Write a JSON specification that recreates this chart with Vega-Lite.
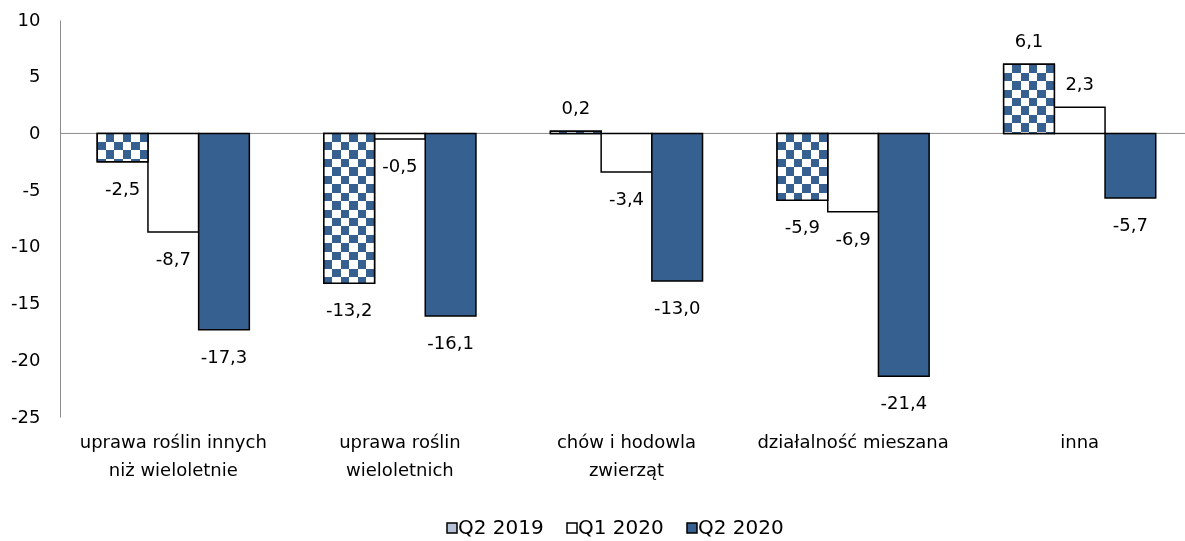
{
  "$schema": "https://vega.github.io/schema/vega-lite/v6.json",
  "width": 1125,
  "height": 397,
  "autosize": {"type": "none"},
  "padding": {"left": 60, "top": 20, "right": 0, "bottom": 124},
  "background": "#ffffff",
  "config": {
    "font": "DejaVu Sans",
    "view": {"stroke": null},
    "locale": {
      "number": {"decimal": ",", "thousands": " ", "grouping": [3], "currency": ["", " zł"], "minus": "-"}
    },
    "axisY": {
      "title": null,
      "values": [-25, -20, -15, -10, -5, 0, 5, 10],
      "ticks": false,
      "grid": false,
      "domainColor": "#8c8c8c",
      "domainWidth": 1,
      "labelFontSize": 18,
      "labelPadding": 20,
      "labelColor": "#000000",
      "format": "d"
    }
  },
  "data": {
    "values": [
      {"cat": "uprawa roślin innych niż wieloletnie", "series": "Q2 2019", "value": -2.5},
      {"cat": "uprawa roślin innych niż wieloletnie", "series": "Q1 2020", "value": -8.7},
      {"cat": "uprawa roślin innych niż wieloletnie", "series": "Q2 2020", "value": -17.3},
      {"cat": "uprawa roślin wieloletnich", "series": "Q2 2019", "value": -13.2},
      {"cat": "uprawa roślin wieloletnich", "series": "Q1 2020", "value": -0.5},
      {"cat": "uprawa roślin wieloletnich", "series": "Q2 2020", "value": -16.1},
      {"cat": "chów i hodowla zwierząt", "series": "Q2 2019", "value": 0.2},
      {"cat": "chów i hodowla zwierząt", "series": "Q1 2020", "value": -3.4},
      {"cat": "chów i hodowla zwierząt", "series": "Q2 2020", "value": -13.0},
      {"cat": "działalność mieszana", "series": "Q2 2019", "value": -5.9},
      {"cat": "działalność mieszana", "series": "Q1 2020", "value": -6.9},
      {"cat": "działalność mieszana", "series": "Q2 2020", "value": -21.4},
      {"cat": "inna", "series": "Q2 2019", "value": 6.1},
      {"cat": "inna", "series": "Q1 2020", "value": 2.3},
      {"cat": "inna", "series": "Q2 2020", "value": -5.7}
    ]
  },
  "layer": [
    {
      "data": {"values": [{}]},
      "mark": {"type": "rule", "color": "#8c8c8c", "strokeWidth": 1},
      "encoding": {
        "y": {"datum": 0, "type": "quantitative", "scale": {"domain": [-25, 10], "nice": false}, "axis": {"title": null}}
      }
    },
    {
      "encoding": {
        "x": {
          "field": "cat", "type": "nominal", "sort": null,
          "scale": {"domain": ["uprawa roślin innych niż wieloletnie", "uprawa roślin wieloletnich", "chów i hodowla zwierząt", "działalność mieszana", "inna"], "range": [0, 1133], "paddingInner": 0, "paddingOuter": 0},
          "axis": {
            "title": null, "domain": false, "ticks": false, "labelFontSize": 18, "labelPadding": 16,
            "labelLineHeight": 28, "labelLimit": 0, "labelColor": "#000000", "labelAngle": 0, "labelOverlap": false,
            "labelExpr": "datum.value == 'uprawa roślin innych niż wieloletnie' ? ['uprawa roślin innych', 'niż wieloletnie'] : datum.value == 'uprawa roślin wieloletnich' ? ['uprawa roślin', 'wieloletnich'] : datum.value == 'chów i hodowla zwierząt' ? ['chów i hodowla', 'zwierząt'] : datum.label"
          }
        },
        "xOffset": {
          "field": "series", "type": "nominal", "sort": null,
          "scale": {"domain": ["Q2 2019", "Q1 2020", "Q2 2020"], "paddingOuter": 0.735, "paddingInner": 0}
        },
        "y": {
          "field": "value", "type": "quantitative",
          "scale": {"domain": [-25, 10], "nice": false},
          "axis": {"title": null}
        }
      },
      "layer": [
        {
          "mark": {"type": "bar", "stroke": "#000000", "strokeWidth": 1.5},
          "encoding": {
            "fill": {
              "field": "series", "type": "nominal",
              "scale": {"domain": ["Q2 2019", "Q1 2020", "Q2 2020"], "range": ["#b4c3d6", "#ffffff", "#36608f"]},
              "legend": {
                "title": null, "orient": "none", "legendX": 382, "legendY": 498, "direction": "horizontal",
                "symbolType": "square", "symbolSize": 100, "symbolStrokeColor": "#000000", "symbolStrokeWidth": 1.5,
                "labelFontSize": 20, "labelOffset": -4, "columnPadding": 18, "labelColor": "#000000"
              }
            }
          }
        },
        {
          "transform": [{"filter": "datum.series == 'Q2 2019'"}],
          "mark": {
            "type": "bar",
            "fill": {"gradient": "linear", "x1": 0, "y1": 0, "x2": 1, "y2": 0, "stops": [
              {"offset": 0, "color": "#000000"}, {"offset": 0.1667, "color": "#000000"},
              {"offset": 0.1667, "color": "#c99f70"}, {"offset": 0.3333, "color": "#c99f70"},
              {"offset": 0.3333, "color": "#000000"}, {"offset": 0.5, "color": "#000000"},
              {"offset": 0.5, "color": "#c99f70"}, {"offset": 0.6667, "color": "#c99f70"},
              {"offset": 0.6667, "color": "#000000"}, {"offset": 0.8333, "color": "#000000"},
              {"offset": 0.8333, "color": "#c99f70"}, {"offset": 1, "color": "#c99f70"}
            ]}
          }
        },
        {
          "transform": [{"filter": "datum.series == 'Q2 2019' && datum.cat == 'uprawa roślin innych niż wieloletnie'"}],
          "mark": {
            "type": "bar", "blend": "difference",
            "fill": {"gradient": "linear", "x1": 0, "y1": 0, "x2": 0, "y2": 1, "stops": [
              {"offset": 0, "color": "#000000"}, {"offset": 0.298, "color": "#000000"},
              {"offset": 0.298, "color": "#c99f70"}, {"offset": 0.596, "color": "#c99f70"},
              {"offset": 0.596, "color": "#000000"}, {"offset": 0.894, "color": "#000000"},
              {"offset": 0.894, "color": "#c99f70"}, {"offset": 1, "color": "#c99f70"}
            ]}
          }
        },
        {
          "transform": [{"filter": "datum.series == 'Q2 2019' && datum.cat == 'uprawa roślin wieloletnich'"}],
          "mark": {
            "type": "bar", "blend": "difference",
            "fill": {"gradient": "linear", "x1": 0, "y1": 0, "x2": 0, "y2": 1, "stops": [
              {"offset": 0, "color": "#000000"}, {"offset": 0.0565, "color": "#000000"},
              {"offset": 0.0565, "color": "#c99f70"}, {"offset": 0.1129, "color": "#c99f70"},
              {"offset": 0.1129, "color": "#000000"}, {"offset": 0.1694, "color": "#000000"},
              {"offset": 0.1694, "color": "#c99f70"}, {"offset": 0.2258, "color": "#c99f70"},
              {"offset": 0.2258, "color": "#000000"}, {"offset": 0.2823, "color": "#000000"},
              {"offset": 0.2823, "color": "#c99f70"}, {"offset": 0.3387, "color": "#c99f70"},
              {"offset": 0.3387, "color": "#000000"}, {"offset": 0.3952, "color": "#000000"},
              {"offset": 0.3952, "color": "#c99f70"}, {"offset": 0.4516, "color": "#c99f70"},
              {"offset": 0.4516, "color": "#000000"}, {"offset": 0.5081, "color": "#000000"},
              {"offset": 0.5081, "color": "#c99f70"}, {"offset": 0.5645, "color": "#c99f70"},
              {"offset": 0.5645, "color": "#000000"}, {"offset": 0.621, "color": "#000000"},
              {"offset": 0.621, "color": "#c99f70"}, {"offset": 0.6774, "color": "#c99f70"},
              {"offset": 0.6774, "color": "#000000"}, {"offset": 0.7339, "color": "#000000"},
              {"offset": 0.7339, "color": "#c99f70"}, {"offset": 0.7903, "color": "#c99f70"},
              {"offset": 0.7903, "color": "#000000"}, {"offset": 0.8468, "color": "#000000"},
              {"offset": 0.8468, "color": "#c99f70"}, {"offset": 0.9032, "color": "#c99f70"},
              {"offset": 0.9032, "color": "#000000"}, {"offset": 0.9597, "color": "#000000"},
              {"offset": 0.9597, "color": "#c99f70"}, {"offset": 1, "color": "#c99f70"}
            ]}
          }
        },
        {
          "transform": [{"filter": "datum.series == 'Q2 2019' && datum.cat == 'działalność mieszana'"}],
          "mark": {
            "type": "bar", "blend": "difference",
            "fill": {"gradient": "linear", "x1": 0, "y1": 0, "x2": 0, "y2": 1, "stops": [
              {"offset": 0, "color": "#000000"}, {"offset": 0.1263, "color": "#000000"},
              {"offset": 0.1263, "color": "#c99f70"}, {"offset": 0.2526, "color": "#c99f70"},
              {"offset": 0.2526, "color": "#000000"}, {"offset": 0.3789, "color": "#000000"},
              {"offset": 0.3789, "color": "#c99f70"}, {"offset": 0.5052, "color": "#c99f70"},
              {"offset": 0.5052, "color": "#000000"}, {"offset": 0.6315, "color": "#000000"},
              {"offset": 0.6315, "color": "#c99f70"}, {"offset": 0.7578, "color": "#c99f70"},
              {"offset": 0.7578, "color": "#000000"}, {"offset": 0.8841, "color": "#000000"},
              {"offset": 0.8841, "color": "#c99f70"}, {"offset": 1, "color": "#c99f70"}
            ]}
          }
        },
        {
          "transform": [{"filter": "datum.series == 'Q2 2019' && datum.cat == 'inna'"}],
          "mark": {
            "type": "bar", "blend": "difference",
            "fill": {"gradient": "linear", "x1": 0, "y1": 0, "x2": 0, "y2": 1, "stops": [
              {"offset": 0, "color": "#000000"}, {"offset": 0.1221, "color": "#000000"},
              {"offset": 0.1221, "color": "#c99f70"}, {"offset": 0.2442, "color": "#c99f70"},
              {"offset": 0.2442, "color": "#000000"}, {"offset": 0.3663, "color": "#000000"},
              {"offset": 0.3663, "color": "#c99f70"}, {"offset": 0.4884, "color": "#c99f70"},
              {"offset": 0.4884, "color": "#000000"}, {"offset": 0.6105, "color": "#000000"},
              {"offset": 0.6105, "color": "#c99f70"}, {"offset": 0.7326, "color": "#c99f70"},
              {"offset": 0.7326, "color": "#000000"}, {"offset": 0.8547, "color": "#000000"},
              {"offset": 0.8547, "color": "#c99f70"}, {"offset": 0.9768, "color": "#c99f70"},
              {"offset": 0.9768, "color": "#000000"}, {"offset": 1, "color": "#000000"}
            ]}
          }
        },
        {
          "transform": [{"filter": "datum.series == 'Q2 2019'"}],
          "mark": {"type": "bar", "fill": "#ffffff", "blend": "difference"}
        },
        {
          "transform": [{"filter": "datum.series == 'Q2 2019'"}],
          "mark": {"type": "bar", "fillOpacity": 0, "stroke": "#000000", "strokeWidth": 1.5}
        },
        {
          "transform": [{"filter": "datum.value < 0"}],
          "mark": {"type": "text", "fontSize": 18, "baseline": "middle", "dy": 28, "color": "#000000"},
          "encoding": {"text": {"field": "value", "type": "quantitative", "format": ".1f"}}
        },
        {
          "transform": [{"filter": "datum.value >= 0"}],
          "mark": {"type": "text", "fontSize": 18, "baseline": "middle", "dy": -22, "color": "#000000"},
          "encoding": {"text": {"field": "value", "type": "quantitative", "format": ".1f"}}
        }
      ]
    }
  ]
}
